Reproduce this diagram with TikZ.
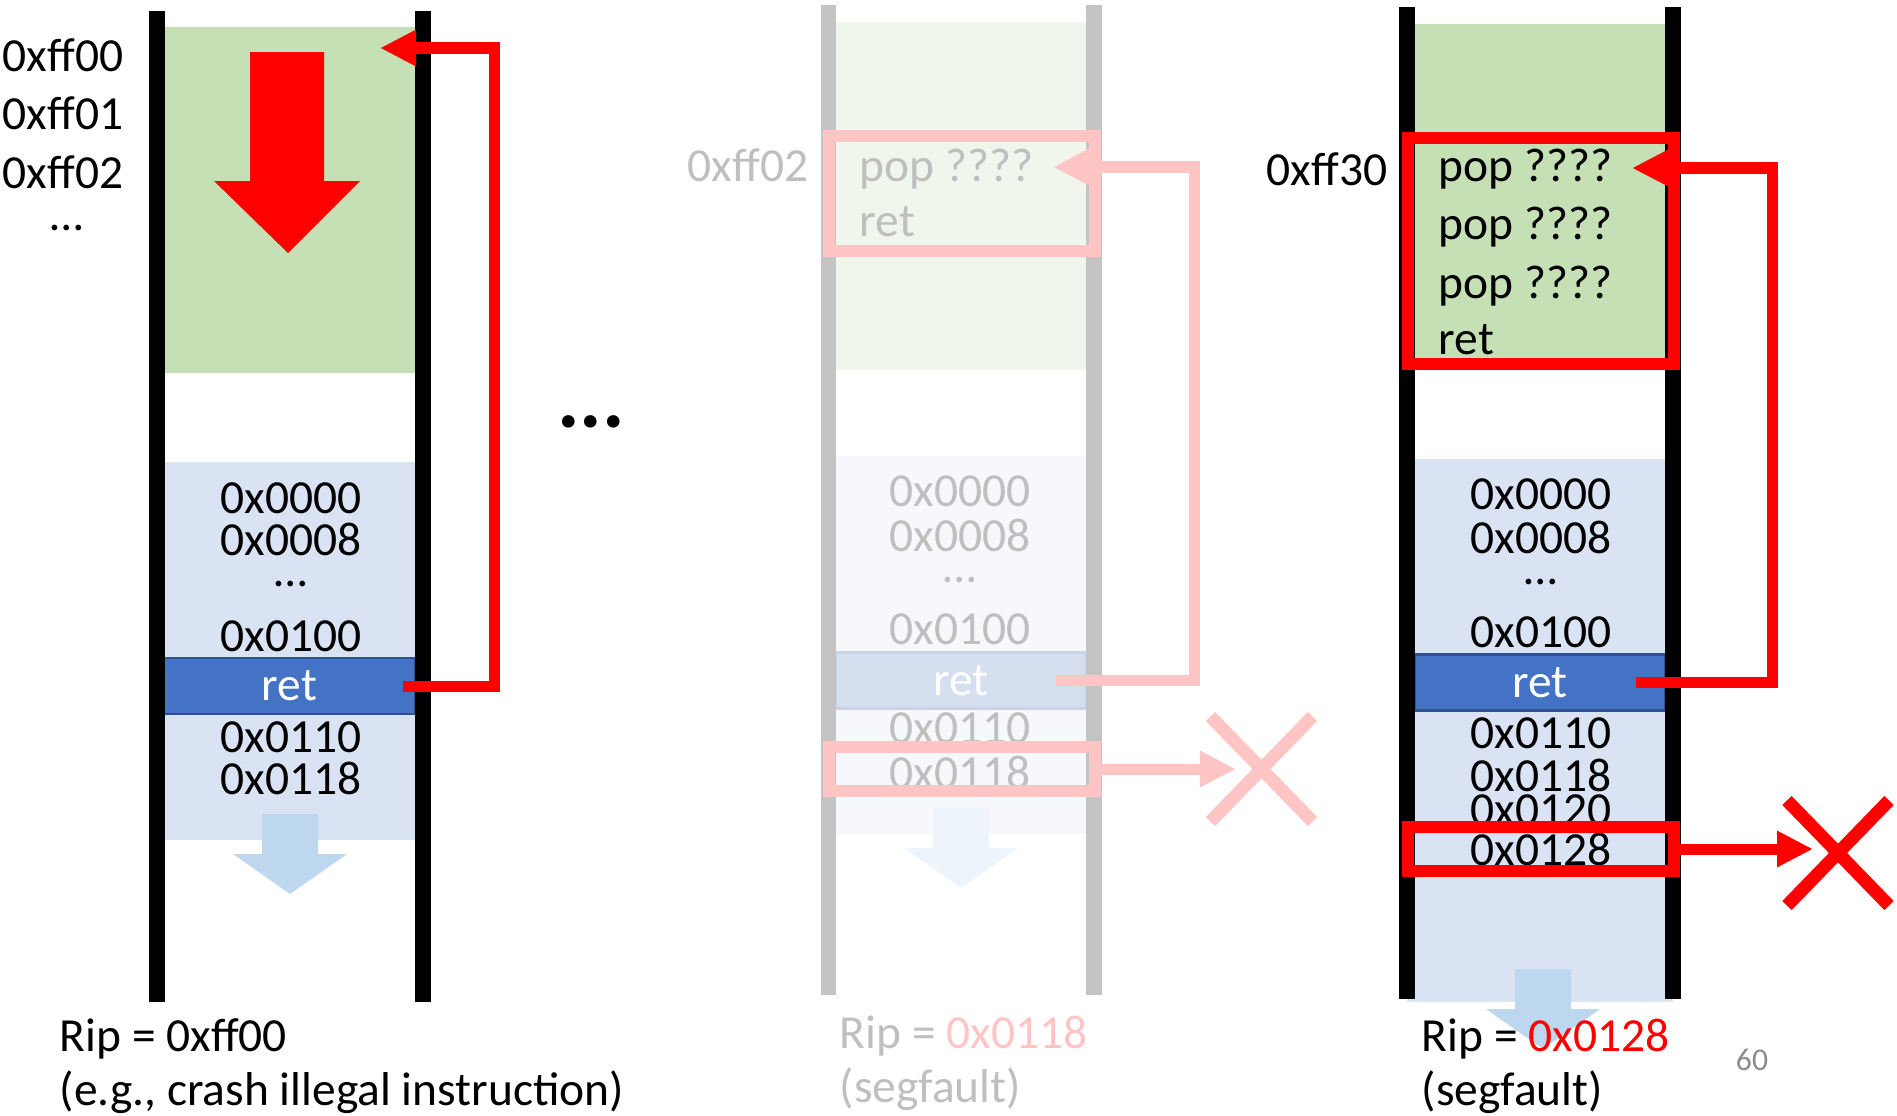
\documentclass[tikz,border=0pt]{standalone}
\usepackage{fontspec}
\setmainfont{Carlito}
\usepackage{xcolor}
\usepackage{tikz}
\usetikzlibrary{arrows.meta}
\usetikzlibrary{shapes.misc}
\usetikzlibrary{positioning}
\definecolor{stackgreen}{HTML}{C5E0B4}
\definecolor{stackblue}{HTML}{DAE3F3}
\definecolor{retblue}{HTML}{4472C4}
\definecolor{retedge}{HTML}{2F528F}
\definecolor{growblue}{HTML}{BDD7EE}
\definecolor{fadewall}{HTML}{C4C4C4}
\definecolor{fadetext}{HTML}{BFBFBF}
\definecolor{fadepink}{HTML}{FFC4C4}
\definecolor{fadegreen}{HTML}{F0F6EC}
\definecolor{fadeblue}{HTML}{F6F8FC}
\definecolor{faderet}{HTML}{D5DFF0}
\definecolor{fadeedge}{HTML}{C9D4E8}
\definecolor{fadegrow}{HTML}{EEF4FB}
\definecolor{slidegray}{HTML}{8C8C8C}
\tikzset{
  wall/.style={line width=0.155cm, draw=#1},
  wall/.default=black,
  addr/.style={inner sep=0pt, font=\fontsize{13.5}{16}\selectfont, text=#1},
  addr/.default=black,
  retband/.style={draw=#1, line width=0.7pt, minimum width=2.51cm, minimum height=0.56cm, inner sep=0pt, font=\fontsize{13.5}{16}\selectfont, text=white},
  jump/.style={line width=0.11cm, draw=#1, -{Triangle[length=3.6mm, width=3.4mm]}},
  jump/.default=red,
  hitbox/.style={draw=#1, line width=0.12cm, inner sep=0pt, minimum width=2.66cm},
  hitbox/.default=red,
  crash/.style={cross out, draw=#1, line width=0.13cm, inner sep=0pt, outer sep=0pt, minimum width=1.02cm, minimum height=1.05cm},
  crash/.default=red,
  ripnote/.style={inner sep=0pt, anchor=west, align=left, font=\fontsize{13.5}{15.4}\selectfont, text=#1},
  ripnote/.default=black,
}
\begin{document}
\begin{tikzpicture}[x=0.01cm, y=-0.01cm]
  \useasboundingbox (0,0) rectangle (1897,1115);

  % stack regions
  \fill[stackgreen] (164,27) rectangle (415,373);
  \fill[stackblue] (164,462) rectangle (415,840);
  \fill[fadegreen] (836,22) rectangle (1086,370);
  \fill[fadeblue] (836,456) rectangle (1086,834);
  \fill[stackgreen] (1415,24) rectangle (1665,370);
  \fill[stackblue] (1407,459) rectangle (1673,1002);

  % growth arrows
  \fill[red] (250,52) -- (324,52) -- (324,181) -- (360,181) -- (288,253) -- (214,181) -- (250,181) -- cycle;
  \foreach \cx/\ty/\col in {290/814/growblue, 961/808/fadegrow, 1543/969/growblue}
    \fill[\col] (\cx-28,\ty) -- (\cx+28,\ty) -- (\cx+28,\ty+40) -- (\cx+57,\ty+40)
      -- (\cx,\ty+80) -- (\cx-57,\ty+40) -- (\cx-28,\ty+40) -- cycle;

  % ret slots
  \node[retband=retedge, fill=retblue] (retA) at (289.5,686) {ret};
  \node[retband=fadeedge, fill=faderet] (retB) at (961,680.5) {ret};
  \node[retband=retedge, fill=retblue] (retC) at (1540,682.5) {ret};

  % walls
  \foreach \x in {157,423} \draw[wall] (\x,11) -- (\x,1002);
  \foreach \x in {828.5,1094} \draw[wall=fadewall] (\x,5) -- (\x,995);
  \foreach \x in {1407,1673} \draw[wall] (\x,7) -- (\x,999);

  % addresses
  \foreach \y/\t [count=\i] in {498/0x0000, 539/0x0008, 584/\ldots, 636/0x0100, 737/0x0110, 778/0x0118}
    \node[addr] (codeA\i) at (291,\y) {\t};
  \foreach \y/\t [count=\i] in {491/0x0000, 535/0x0008, 580/\ldots, 629/0x0100, 728/0x0110, 772/0x0118}
    \node[addr=fadetext] (codeB\i) at (960,\y) {\t};
  \foreach \y/\t [count=\i] in {494/0x0000, 537/0x0008, 582/\ldots, 632/0x0100, 733/0x0110, 775/0x0118, 810/0x0120, 849/0x0128}
    \node[addr] (codeC\i) at (1541,\y) {\t};

  \foreach \y/\t [count=\i] in {55/0xff00, 113/0xff01, 172/0xff02}
    \node[addr, anchor=west] (hiA\i) at (2,\y) {\t};
  \node[addr] (hiAdots) at (67,228) {\ldots};
  \node[addr=fadetext, anchor=east] (hiB) at (809,165) {0xff02};
  \node[addr, anchor=east] (hiC) at (1388,169) {0xff30};

  % gadgets
  \node[addr=fadetext, anchor=west] (popB1) at (859,169) {pop ????};
  \node[addr=fadetext, anchor=west] (popB2) at (859,222) {ret};
  \foreach \y/\t [count=\i] in {169/pop ????, 227/pop ????, 286/pop ????, 340/ret}
    \node[addr, anchor=west] (popC\i) at (1438,\y) {\t};

  \node (gap) at (591,422) {\fontsize{24}{26}\selectfont\bfseries ...};

  % boxes
  \node[hitbox=fadepink, minimum height=1.15cm] (gadgetB) at (962,193.5) {};
  \node[hitbox=fadepink, minimum height=0.44cm] (slotB) at (962,769) {};
  \node[hitbox, minimum height=2.26cm] (gadgetC) at (1541,251) {};
  \node[hitbox, minimum height=0.44cm] (slotC) at (1541,849) {};
  \node[crash=fadepink] (crashB) at (1261.5,769) {};
  \node[crash] (crashC) at (1838,853) {};

  % jumps
  \coordinate (fromA) at (403,686);
  \coordinate (turnA) at (494,48);
  \coordinate (toA) at (380,48);
  \draw[jump] (fromA) -| (turnA) -- (toA);
  \coordinate (fromB) at (1056,680);
  \coordinate (turnB) at (1194,167);
  \coordinate (toB) at (1053,167);
  \draw[jump=fadepink] (fromB) -| (turnB) -- (toB);
  \coordinate (fromC) at (1636,682);
  \coordinate (turnC) at (1772,168);
  \coordinate (toC) at (1632,168);
  \draw[jump] (fromC) -| (turnC) -- (toC);
  \coordinate (hitB) at (1236,769);
  \draw[jump=fadepink] (slotB.east) -- (hitB);
  \coordinate (hitC) at (1813,849);
  \draw[jump] (slotC.east) -- (hitC);

  % results
  \node[ripnote] (ripA) at (59,1066) {Rip = 0xff00\\(e.g., crash illegal instruction)};
  \node[ripnote=fadetext] (ripB) at (839,1063) {Rip = \textcolor{fadepink}{0x0118}\\(segfault)};
  \node[ripnote] (ripC) at (1421,1066) {Rip = \textcolor{red}{0x0128}\\(segfault)};
  \node[inner sep=0pt, text=slidegray, font=\fontsize{9}{10}\selectfont] (page) at (1752,1060) {60};
\end{tikzpicture}
\end{document}
